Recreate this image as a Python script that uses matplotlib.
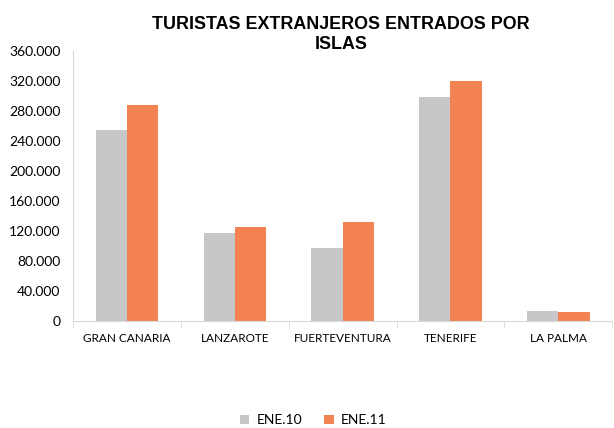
import numpy as np
import matplotlib
matplotlib.use('Agg')
import matplotlib.pyplot as plt
from matplotlib.ticker import FuncFormatter

islas = ['GRAN CANARIA', 'LANZAROTE', 'FUERTEVENTURA', 'TENERIFE', 'LA PALMA']
ene10 = [255000, 117500, 97500, 298500, 13300]
ene11 = [288000, 125000, 131500, 320500, 12000]
series = ['ENE.10', 'ENE.11']
yticks = list(range(0, 360001, 40000))

plt.rcParams['font.family'] = ['Lato', 'DejaVu Sans']

fig = plt.figure(figsize=(6.14, 4.28), dpi=100)
ax = fig.add_axes([0.119, 0.25, 0.878, 0.631])

x = np.arange(len(islas))
w = 0.29
ax.bar(x - w / 2, ene10, w, color='#C7C7C9', label=series[0])
ax.bar(x + w / 2, ene11, w, color='#F38253', label=series[1])

ax.set_xlim(-0.5, len(islas) - 0.5)
ax.set_ylim(0, 360000)
ax.set_yticks(yticks)
ax.yaxis.set_major_formatter(FuncFormatter(lambda v, p: f'{int(v):,}'.replace(',', '.')))
ax.set_xticks(x)
ax.set_xticklabels(islas)
ax.set_xticks(np.arange(len(islas) + 1) - 0.5, minor=True)
ax.tick_params(axis='x', which='major', length=0, pad=9, labelsize=8.5)
ax.tick_params(axis='x', which='minor', length=5, color='#D9D9D9')
ax.tick_params(axis='y', length=0, pad=9, labelsize=10)

for s in ['top', 'right']:
    ax.spines[s].set_visible(False)
ax.spines['left'].set_color('#D9D9D9')
ax.spines['bottom'].set_color('#D9D9D9')

fig.text(0.555, 0.92, 'TURISTAS EXTRANJEROS ENTRADOS POR\nISLAS', ha='center', va='center',
         fontsize=12.9, fontweight='bold', family=['Liberation Sans', 'DejaVu Sans'], linespacing=1.2)

fig.legend(loc='center', bbox_to_anchor=(0.51, 0.018), ncol=2, frameon=False, fontsize=10,
           handlelength=0.7, handleheight=0.7, handletextpad=0.5, columnspacing=1.6)

fig.savefig('out.png', dpi=100)
